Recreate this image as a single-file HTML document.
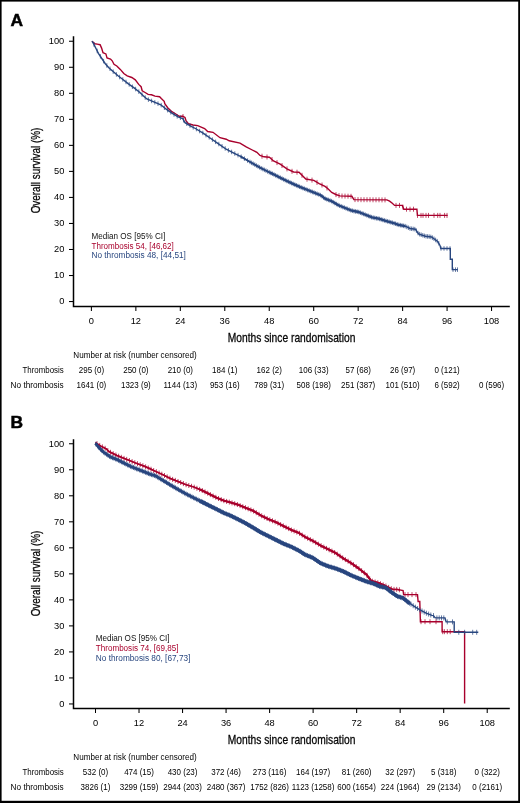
<!DOCTYPE html>
<html><head><meta charset="utf-8"><style>
html,body{margin:0;padding:0;background:#fff;}
svg{display:block;will-change:transform;}
</style></head><body>
<svg width="520" height="803" viewBox="0 0 520 803" font-family='"Liberation Sans", sans-serif' fill="#000">
<rect x="0" y="0" width="520" height="803" fill="#fff"/>
<path d="M73.5 36.2 V306.4 H509.8" fill="none" stroke="#000" stroke-width="1.5"/>
<path d="M69 301.55 H73.5" stroke="#000" stroke-width="1.05"/>
<text transform="translate(64.30 304.35) scale(0.9490 1)" font-size="9.8" text-anchor="end">0</text>
<path d="M69 275.52 H73.5" stroke="#000" stroke-width="1.05"/>
<text transform="translate(64.30 278.32) scale(0.9490 1)" font-size="9.8" text-anchor="end">10</text>
<path d="M69 249.49 H73.5" stroke="#000" stroke-width="1.05"/>
<text transform="translate(64.30 252.29) scale(0.9490 1)" font-size="9.8" text-anchor="end">20</text>
<path d="M69 223.46 H73.5" stroke="#000" stroke-width="1.05"/>
<text transform="translate(64.30 226.26) scale(0.9490 1)" font-size="9.8" text-anchor="end">30</text>
<path d="M69 197.43 H73.5" stroke="#000" stroke-width="1.05"/>
<text transform="translate(64.30 200.23) scale(0.9490 1)" font-size="9.8" text-anchor="end">40</text>
<path d="M69 171.40 H73.5" stroke="#000" stroke-width="1.05"/>
<text transform="translate(64.30 174.20) scale(0.9490 1)" font-size="9.8" text-anchor="end">50</text>
<path d="M69 145.37 H73.5" stroke="#000" stroke-width="1.05"/>
<text transform="translate(64.30 148.17) scale(0.9490 1)" font-size="9.8" text-anchor="end">60</text>
<path d="M69 119.34 H73.5" stroke="#000" stroke-width="1.05"/>
<text transform="translate(64.30 122.14) scale(0.9490 1)" font-size="9.8" text-anchor="end">70</text>
<path d="M69 93.31 H73.5" stroke="#000" stroke-width="1.05"/>
<text transform="translate(64.30 96.11) scale(0.9490 1)" font-size="9.8" text-anchor="end">80</text>
<path d="M69 67.28 H73.5" stroke="#000" stroke-width="1.05"/>
<text transform="translate(64.30 70.08) scale(0.9490 1)" font-size="9.8" text-anchor="end">90</text>
<path d="M69 41.25 H73.5" stroke="#000" stroke-width="1.05"/>
<text transform="translate(64.30 44.05) scale(0.9490 1)" font-size="9.8" text-anchor="end">100</text>
<path d="M91.40 306.4 V311.00" stroke="#000" stroke-width="1.05"/>
<text transform="translate(91.40 323.90) scale(0.9490 1)" font-size="9.8" text-anchor="middle">0</text>
<path d="M135.86 306.4 V311.00" stroke="#000" stroke-width="1.05"/>
<text transform="translate(135.86 323.90) scale(0.9490 1)" font-size="9.8" text-anchor="middle">12</text>
<path d="M180.32 306.4 V311.00" stroke="#000" stroke-width="1.05"/>
<text transform="translate(180.32 323.90) scale(0.9490 1)" font-size="9.8" text-anchor="middle">24</text>
<path d="M224.78 306.4 V311.00" stroke="#000" stroke-width="1.05"/>
<text transform="translate(224.78 323.90) scale(0.9490 1)" font-size="9.8" text-anchor="middle">36</text>
<path d="M269.24 306.4 V311.00" stroke="#000" stroke-width="1.05"/>
<text transform="translate(269.24 323.90) scale(0.9490 1)" font-size="9.8" text-anchor="middle">48</text>
<path d="M313.70 306.4 V311.00" stroke="#000" stroke-width="1.05"/>
<text transform="translate(313.70 323.90) scale(0.9490 1)" font-size="9.8" text-anchor="middle">60</text>
<path d="M358.16 306.4 V311.00" stroke="#000" stroke-width="1.05"/>
<text transform="translate(358.16 323.90) scale(0.9490 1)" font-size="9.8" text-anchor="middle">72</text>
<path d="M402.62 306.4 V311.00" stroke="#000" stroke-width="1.05"/>
<text transform="translate(402.62 323.90) scale(0.9490 1)" font-size="9.8" text-anchor="middle">84</text>
<path d="M447.08 306.4 V311.00" stroke="#000" stroke-width="1.05"/>
<text transform="translate(447.08 323.90) scale(0.9490 1)" font-size="9.8" text-anchor="middle">96</text>
<path d="M491.54 306.4 V311.00" stroke="#000" stroke-width="1.05"/>
<text transform="translate(491.54 323.90) scale(0.9490 1)" font-size="9.8" text-anchor="middle">108</text>
<text x="10.60" y="25.60" font-size="17.4" font-weight="bold" stroke="#000" stroke-width="0.5">A</text>
<text x="227.7" y="341.60" font-size="13.2" stroke="#0d0d0d" stroke-width="0.3" textLength="127.7" lengthAdjust="spacingAndGlyphs">Months since randomisation</text>
<text transform="translate(40.3 170.50) rotate(-90)" x="0" y="0" text-anchor="middle" font-size="13.2" stroke="#0d0d0d" stroke-width="0.3" textLength="85.7" lengthAdjust="spacingAndGlyphs">Overall survival (%)</text>
<text x="73.3" y="358.00" font-size="8.6" textLength="123.3" lengthAdjust="spacingAndGlyphs">Number at risk (number censored)</text>
<text x="22.5" y="373.00" font-size="8.6" textLength="41.2" lengthAdjust="spacingAndGlyphs">Thrombosis</text>
<text x="10.6" y="388.00" font-size="8.6" textLength="53.1" lengthAdjust="spacingAndGlyphs">No thrombosis</text>
<text transform="translate(91.40 373.00) scale(0.9302 1)" font-size="8.6" text-anchor="middle">295 (0)</text>
<text transform="translate(135.86 373.00) scale(0.9302 1)" font-size="8.6" text-anchor="middle">250 (0)</text>
<text transform="translate(180.32 373.00) scale(0.9302 1)" font-size="8.6" text-anchor="middle">210 (0)</text>
<text transform="translate(224.78 373.00) scale(0.9302 1)" font-size="8.6" text-anchor="middle">184 (1)</text>
<text transform="translate(269.24 373.00) scale(0.9302 1)" font-size="8.6" text-anchor="middle">162 (2)</text>
<text transform="translate(313.70 373.00) scale(0.9302 1)" font-size="8.6" text-anchor="middle">106 (33)</text>
<text transform="translate(358.16 373.00) scale(0.9302 1)" font-size="8.6" text-anchor="middle">57 (68)</text>
<text transform="translate(402.62 373.00) scale(0.9302 1)" font-size="8.6" text-anchor="middle">26 (97)</text>
<text transform="translate(447.08 373.00) scale(0.9302 1)" font-size="8.6" text-anchor="middle">0 (121)</text>
<text transform="translate(91.40 388.00) scale(0.9302 1)" font-size="8.6" text-anchor="middle">1641 (0)</text>
<text transform="translate(135.86 388.00) scale(0.9302 1)" font-size="8.6" text-anchor="middle">1323 (9)</text>
<text transform="translate(180.32 388.00) scale(0.9302 1)" font-size="8.6" text-anchor="middle">1144 (13)</text>
<text transform="translate(224.78 388.00) scale(0.9302 1)" font-size="8.6" text-anchor="middle">953 (16)</text>
<text transform="translate(269.24 388.00) scale(0.9302 1)" font-size="8.6" text-anchor="middle">789 (31)</text>
<text transform="translate(313.70 388.00) scale(0.9302 1)" font-size="8.6" text-anchor="middle">508 (198)</text>
<text transform="translate(358.16 388.00) scale(0.9302 1)" font-size="8.6" text-anchor="middle">251 (387)</text>
<text transform="translate(402.62 388.00) scale(0.9302 1)" font-size="8.6" text-anchor="middle">101 (510)</text>
<text transform="translate(447.08 388.00) scale(0.9302 1)" font-size="8.6" text-anchor="middle">6 (592)</text>
<text transform="translate(491.54 388.00) scale(0.9302 1)" font-size="8.6" text-anchor="middle">0 (596)</text>
<path d="M92.0 41.2 L94.9 43.8 L97.2 44.1 L100.1 44.7 L101.6 48.1 L103.0 52.7 L105.9 53.9 L107.0 57.9 L110.5 59.1 L112.2 60.8 L114.0 64.3 L116.8 66.0 L120.3 69.4 L123.8 73.5 L127.2 75.8 L131.8 77.5 L135.3 79.8 L138.7 84.4 L141.1 86.7 L142.2 90.8 L145.1 92.5 L148.1 94.4 L151.5 94.8 L155.0 96.1 L159.6 96.7 L161.3 98.5 L164.2 101.3 L164.8 103.6 L167.7 107.7 L171.1 111.1 L175.8 114.0 L179.2 116.3 L182.7 116.3 L185.0 117.5 L186.1 120.9 L188.4 123.8 L193.0 125.0 L197.7 125.6 L204.6 128.5 L207.7 131.5 L213.0 132.3 L220.0 137.7 L226.2 139.2 L229.2 140.8 L240.0 143.1 L246.2 146.9 L252.3 150.0 L256.9 152.3 L260.0 155.5 L264.0 156.8 L269.4 157.2 L273.5 160.9 L280.2 164.2 L286.9 168.9 L293.6 172.0 L299.0 172.3 L305.8 179.0 L313.8 180.4 L319.2 183.7 L325.0 186.4 L327.7 188.5 L331.7 192.5 L335.8 194.5 L339.8 195.9 L351.9 196.3 L353.9 199.6 L386.9 199.9 L389.6 201.2 L392.3 203.3 L394.6 205.4 L402.3 205.4 L403.8 209.2 L416.9 209.2 L417.4 215.4 L447.7 215.4" fill="none" stroke="#a8002c" stroke-width="1.4" stroke-linejoin="miter"/>
<path d="M183.0 114.0v5M262.0 153.7v5M267.0 154.5v5M272.0 157.0v5M277.0 160.1v5M282.0 163.0v5M287.0 166.4v5M292.0 168.8v5M297.0 169.7v5M302.0 172.8v5M307.0 176.7v5M312.0 177.6v5M317.0 179.9v5M322.0 182.5v5M327.0 185.5v5M336.0 192.1v5M339.0 193.1v5M342.0 193.5v5M345.0 193.6v5M348.0 193.7v5M351.0 193.8v5M355.0 197.1v5M358.0 197.1v5M361.0 197.2v5M364.0 197.2v5M367.0 197.2v5M370.0 197.2v5M373.0 197.3v5M376.0 197.3v5M379.0 197.3v5M382.0 197.4v5M385.0 197.4v5M396.0 202.9v5M399.5 202.9v5M403.0 204.7v5M406.5 206.7v5M410.0 206.7v5M413.5 206.7v5M417.5 212.9v5M421.0 212.9v5M423.0 212.9v5M426.0 212.9v5M428.5 212.9v5M434.0 212.9v5M437.7 212.9v5M440.0 212.9v5M444.6 212.9v5M447.0 212.9v5" stroke="#a8002c" stroke-width="0.9" opacity="0.8"/>
<path d="M240.0 156.2 L241.5 156.9 L249.2 161.5 L260.0 167.6 L266.7 171.0 L272.0 173.6" fill="none" stroke="#28467f" stroke-width="1.8" stroke-linejoin="round"/>
<path d="M270.0 172.6 L273.5 174.3 L280.2 177.7 L286.9 181.0 L293.6 184.1 L300.4 187.1 L307.1 189.8 L313.8 192.5 L320.6 195.2 L325.0 198.6 L331.7 201.2 L338.5 205.3 L345.2 208.0 L351.9 210.7 L358.6 212.0 L365.4 214.7 L372.1 217.4 L378.8 218.7 L385.6 220.8 L395.0 223.5 L397.7 224.6 L405.0 226.1" fill="none" stroke="#28467f" stroke-width="2.3" stroke-linejoin="round"/>
<path d="M92.0 41.2 L93.8 44.1 L96.1 48.7 L98.4 53.3 L101.8 58.5 L105.3 63.7 L108.8 67.7 L113.4 71.8 L118.0 75.8 L122.6 79.3 L128.4 83.9 L134.1 87.9 L139.9 92.5 L143.5 96.1 L146.9 99.0 L153.8 101.9 L160.8 104.8 L166.5 109.4 L172.3 113.4 L178.1 116.9 L182.7 118.6 L185.0 122.7 L190.7 126.1 L195.4 128.5 L203.1 133.1 L210.8 138.5 L218.5 143.8 L226.2 149.2 L233.8 153.1 L241.5 156.9 L249.2 161.5 L260.0 167.6 L266.7 171.0 L273.5 174.3 L280.2 177.7 L286.9 181.0 L293.6 184.1 L300.4 187.1 L307.1 189.8 L313.8 192.5 L320.6 195.2 L325.0 198.6 L331.7 201.2 L338.5 205.3 L345.2 208.0 L351.9 210.7 L358.6 212.0 L365.4 214.7 L372.1 217.4 L378.8 218.7 L385.6 220.8 L395.0 223.5 L397.7 224.6 L405.4 226.2 L410.0 228.5 L415.4 229.2 L418.5 233.8 L425.4 236.2 L431.5 237.0 L434.6 239.2 L437.7 241.5 L440.0 245.4 L440.8 248.5 L450.3 248.5 L450.3 259.2 L452.3 259.2 L452.3 269.6 L457.8 269.6" fill="none" stroke="#28467f" stroke-width="1.4"/>
<path d="M94.0 42.3v4.5M97.2 48.7v4.5M100.4 54.1v4.5M103.6 58.9v4.5M106.8 63.2v4.5M110.0 66.5v4.5M113.2 69.4v4.5M116.4 72.2v4.5M119.6 74.8v4.5M122.8 77.2v4.5M126.0 79.7v4.5M129.2 82.2v4.5M132.4 84.5v4.5M135.6 86.8v4.5M138.8 89.4v4.5M142.0 92.3v4.5M145.2 95.3v4.5M148.4 97.4v4.5M151.6 98.7v4.5M154.8 100.1v4.5M158.0 101.4v4.5M161.2 102.9v4.5M164.4 105.5v4.5M167.6 107.9v4.5M170.8 110.1v4.5M174.0 112.2v4.5M177.2 114.1v4.5M180.4 115.5v4.5M183.6 118.0v4.5M186.8 121.5v4.5M190.0 123.4v4.5M193.2 125.1v4.5M196.4 126.8v4.5M199.6 128.8v4.5M202.8 130.7v4.5M206.0 132.9v4.5M209.2 135.1v4.5M212.4 137.4v4.5M215.6 139.6v4.5M218.8 141.8v4.5M222.0 144.0v4.5M225.2 146.2v4.5M228.4 148.1v4.5M231.6 149.7v4.5M234.8 151.3v4.5M238.0 152.9v4.5M241.2 154.5v4.5M244.4 156.4v4.5M247.6 158.3v4.5M250.0 159.7v4.5M251.6 160.6v4.5M253.2 161.5v4.5M254.8 162.4v4.5M256.4 163.3v4.5M258.0 164.2v4.5M259.6 165.1v4.5M261.2 166.0v4.5M262.8 166.8v4.5M264.4 167.6v4.5M266.0 168.4v4.5M267.6 169.2v4.5M269.2 170.0v4.5M270.8 170.7v4.5M272.4 171.5v4.5M274.0 172.3v4.5M275.6 173.1v4.5M277.2 173.9v4.5M278.8 174.7v4.5M280.4 175.5v4.5M282.0 176.3v4.5M283.6 177.1v4.5M285.2 177.9v4.5M286.8 178.7v4.5M288.4 179.4v4.5M290.0 180.2v4.5M291.6 180.9v4.5M293.2 181.7v4.5M294.8 182.4v4.5M296.4 183.1v4.5M298.0 183.8v4.5M299.6 184.5v4.5M301.2 185.2v4.5M302.8 185.8v4.5M304.4 186.5v4.5M306.0 187.1v4.5M307.6 187.8v4.5M309.2 188.4v4.5M310.8 189.0v4.5M312.4 189.7v4.5M314.0 190.3v4.5M315.6 191.0v4.5M317.2 191.6v4.5M318.8 192.2v4.5M320.4 192.9v4.5M322.0 194.0v4.5M323.6 195.3v4.5M325.2 196.4v4.5M326.8 197.0v4.5M328.4 197.7v4.5M330.0 198.3v4.5M331.6 198.9v4.5M333.2 199.9v4.5M334.8 200.8v4.5M336.4 201.8v4.5M338.0 202.7v4.5M339.6 203.5v4.5M341.2 204.1v4.5M342.8 204.8v4.5M344.4 205.4v4.5M346.0 206.1v4.5M347.6 206.7v4.5M349.2 207.4v4.5M350.8 208.0v4.5M352.4 208.5v4.5M354.0 208.9v4.5M355.6 209.2v4.5M357.2 209.5v4.5M358.8 209.8v4.5M360.4 210.5v4.5M362.0 211.1v4.5M363.6 211.7v4.5M365.2 212.4v4.5M366.8 213.0v4.5M368.4 213.7v4.5M370.0 214.3v4.5M371.6 214.9v4.5M373.2 215.4v4.5M374.8 215.7v4.5M376.4 216.0v4.5M378.0 216.3v4.5M379.6 216.7v4.5M381.2 217.2v4.5M382.8 217.7v4.5M384.4 218.2v4.5M386.0 218.7v4.5M387.6 219.1v4.5M389.2 219.6v4.5M390.8 220.0v4.5M392.4 220.5v4.5M394.0 221.0v4.5M395.6 221.5v4.5M397.2 222.1v4.5M398.8 222.6v4.5M400.4 222.9v4.5M402.0 223.2v4.5M403.6 223.6v4.5M405.2 223.9v4.5M406.8 224.7v4.5M408.4 225.5v4.5M410.0 226.3v4.5M411.6 226.5v4.5M413.2 226.7v4.5M414.8 226.9v4.5M416.4 228.4v4.5M418.0 230.8v4.5M419.6 231.9v4.5M421.2 232.5v4.5M422.8 233.0v4.5M424.4 233.6v4.5M426.0 234.0v4.5M427.6 234.2v4.5M429.2 234.4v4.5M430.8 234.7v4.5M432.4 235.4v4.5M434.0 236.5v4.5M435.6 237.7v4.5M437.2 238.9v4.5M438.8 241.1v4.5M441.0 246.2v4.5M444.0 246.2v4.5M447.0 246.2v4.5M450.0 246.2v4.5M453.0 267.4v4.5M455.5 267.4v4.5M457.5 267.4v4.5" stroke="#28467f" stroke-width="0.9" opacity="0.8"/>
<text x="91.5" y="238.80" font-size="8.3" fill="#111" textLength="73.8" lengthAdjust="spacingAndGlyphs">Median OS [95% CI]</text>
<text x="91.5" y="248.70" font-size="8.3" fill="#a8002c" textLength="82.3" lengthAdjust="spacingAndGlyphs">Thrombosis 54, [46,62]</text>
<text x="91.5" y="258.40" font-size="8.3" fill="#28467f" textLength="94.4" lengthAdjust="spacingAndGlyphs">No thrombosis 48, [44,51]</text>
<path d="M73.5 439.2 V708.4 H509.8" fill="none" stroke="#000" stroke-width="1.5"/>
<path d="M69 703.95 H73.5" stroke="#000" stroke-width="1.05"/>
<text transform="translate(64.30 706.75) scale(0.9490 1)" font-size="9.8" text-anchor="end">0</text>
<path d="M69 677.93 H73.5" stroke="#000" stroke-width="1.05"/>
<text transform="translate(64.30 680.73) scale(0.9490 1)" font-size="9.8" text-anchor="end">10</text>
<path d="M69 651.91 H73.5" stroke="#000" stroke-width="1.05"/>
<text transform="translate(64.30 654.71) scale(0.9490 1)" font-size="9.8" text-anchor="end">20</text>
<path d="M69 625.89 H73.5" stroke="#000" stroke-width="1.05"/>
<text transform="translate(64.30 628.69) scale(0.9490 1)" font-size="9.8" text-anchor="end">30</text>
<path d="M69 599.87 H73.5" stroke="#000" stroke-width="1.05"/>
<text transform="translate(64.30 602.67) scale(0.9490 1)" font-size="9.8" text-anchor="end">40</text>
<path d="M69 573.85 H73.5" stroke="#000" stroke-width="1.05"/>
<text transform="translate(64.30 576.65) scale(0.9490 1)" font-size="9.8" text-anchor="end">50</text>
<path d="M69 547.83 H73.5" stroke="#000" stroke-width="1.05"/>
<text transform="translate(64.30 550.63) scale(0.9490 1)" font-size="9.8" text-anchor="end">60</text>
<path d="M69 521.81 H73.5" stroke="#000" stroke-width="1.05"/>
<text transform="translate(64.30 524.61) scale(0.9490 1)" font-size="9.8" text-anchor="end">70</text>
<path d="M69 495.79 H73.5" stroke="#000" stroke-width="1.05"/>
<text transform="translate(64.30 498.59) scale(0.9490 1)" font-size="9.8" text-anchor="end">80</text>
<path d="M69 469.77 H73.5" stroke="#000" stroke-width="1.05"/>
<text transform="translate(64.30 472.57) scale(0.9490 1)" font-size="9.8" text-anchor="end">90</text>
<path d="M69 443.75 H73.5" stroke="#000" stroke-width="1.05"/>
<text transform="translate(64.30 446.55) scale(0.9490 1)" font-size="9.8" text-anchor="end">100</text>
<path d="M95.50 708.4 V713.00" stroke="#000" stroke-width="1.05"/>
<text transform="translate(95.50 725.90) scale(0.9490 1)" font-size="9.8" text-anchor="middle">0</text>
<path d="M139.02 708.4 V713.00" stroke="#000" stroke-width="1.05"/>
<text transform="translate(139.02 725.90) scale(0.9490 1)" font-size="9.8" text-anchor="middle">12</text>
<path d="M182.55 708.4 V713.00" stroke="#000" stroke-width="1.05"/>
<text transform="translate(182.55 725.90) scale(0.9490 1)" font-size="9.8" text-anchor="middle">24</text>
<path d="M226.07 708.4 V713.00" stroke="#000" stroke-width="1.05"/>
<text transform="translate(226.07 725.90) scale(0.9490 1)" font-size="9.8" text-anchor="middle">36</text>
<path d="M269.60 708.4 V713.00" stroke="#000" stroke-width="1.05"/>
<text transform="translate(269.60 725.90) scale(0.9490 1)" font-size="9.8" text-anchor="middle">48</text>
<path d="M313.12 708.4 V713.00" stroke="#000" stroke-width="1.05"/>
<text transform="translate(313.12 725.90) scale(0.9490 1)" font-size="9.8" text-anchor="middle">60</text>
<path d="M356.64 708.4 V713.00" stroke="#000" stroke-width="1.05"/>
<text transform="translate(356.64 725.90) scale(0.9490 1)" font-size="9.8" text-anchor="middle">72</text>
<path d="M400.17 708.4 V713.00" stroke="#000" stroke-width="1.05"/>
<text transform="translate(400.17 725.90) scale(0.9490 1)" font-size="9.8" text-anchor="middle">84</text>
<path d="M443.69 708.4 V713.00" stroke="#000" stroke-width="1.05"/>
<text transform="translate(443.69 725.90) scale(0.9490 1)" font-size="9.8" text-anchor="middle">96</text>
<path d="M487.22 708.4 V713.00" stroke="#000" stroke-width="1.05"/>
<text transform="translate(487.22 725.90) scale(0.9490 1)" font-size="9.8" text-anchor="middle">108</text>
<text x="10.60" y="428.20" font-size="17.4" font-weight="bold" stroke="#000" stroke-width="0.5">B</text>
<text x="227.7" y="743.80" font-size="13.2" stroke="#0d0d0d" stroke-width="0.3" textLength="127.7" lengthAdjust="spacingAndGlyphs">Months since randomisation</text>
<text transform="translate(40.3 573.50) rotate(-90)" x="0" y="0" text-anchor="middle" font-size="13.2" stroke="#0d0d0d" stroke-width="0.3" textLength="85.7" lengthAdjust="spacingAndGlyphs">Overall survival (%)</text>
<text x="73.3" y="760.00" font-size="8.6" textLength="123.3" lengthAdjust="spacingAndGlyphs">Number at risk (number censored)</text>
<text x="22.5" y="775.00" font-size="8.6" textLength="41.2" lengthAdjust="spacingAndGlyphs">Thrombosis</text>
<text x="10.6" y="790.00" font-size="8.6" textLength="53.1" lengthAdjust="spacingAndGlyphs">No thrombosis</text>
<text transform="translate(95.50 775.00) scale(0.9302 1)" font-size="8.6" text-anchor="middle">532 (0)</text>
<text transform="translate(139.02 775.00) scale(0.9302 1)" font-size="8.6" text-anchor="middle">474 (15)</text>
<text transform="translate(182.55 775.00) scale(0.9302 1)" font-size="8.6" text-anchor="middle">430 (23)</text>
<text transform="translate(226.07 775.00) scale(0.9302 1)" font-size="8.6" text-anchor="middle">372 (46)</text>
<text transform="translate(269.60 775.00) scale(0.9302 1)" font-size="8.6" text-anchor="middle">273 (116)</text>
<text transform="translate(313.12 775.00) scale(0.9302 1)" font-size="8.6" text-anchor="middle">164 (197)</text>
<text transform="translate(356.64 775.00) scale(0.9302 1)" font-size="8.6" text-anchor="middle">81 (260)</text>
<text transform="translate(400.17 775.00) scale(0.9302 1)" font-size="8.6" text-anchor="middle">32 (297)</text>
<text transform="translate(443.69 775.00) scale(0.9302 1)" font-size="8.6" text-anchor="middle">5 (318)</text>
<text transform="translate(487.22 775.00) scale(0.9302 1)" font-size="8.6" text-anchor="middle">0 (322)</text>
<text transform="translate(95.50 790.00) scale(0.9302 1)" font-size="8.6" text-anchor="middle">3826 (1)</text>
<text transform="translate(139.02 790.00) scale(0.9302 1)" font-size="8.6" text-anchor="middle">3299 (159)</text>
<text transform="translate(182.55 790.00) scale(0.9302 1)" font-size="8.6" text-anchor="middle">2944 (203)</text>
<text transform="translate(226.07 790.00) scale(0.9302 1)" font-size="8.6" text-anchor="middle">2480 (367)</text>
<text transform="translate(269.60 790.00) scale(0.9302 1)" font-size="8.6" text-anchor="middle">1752 (826)</text>
<text transform="translate(313.12 790.00) scale(0.9302 1)" font-size="8.6" text-anchor="middle">1123 (1258)</text>
<text transform="translate(356.64 790.00) scale(0.9302 1)" font-size="8.6" text-anchor="middle">600 (1654)</text>
<text transform="translate(400.17 790.00) scale(0.9302 1)" font-size="8.6" text-anchor="middle">224 (1964)</text>
<text transform="translate(443.69 790.00) scale(0.9302 1)" font-size="8.6" text-anchor="middle">29 (2134)</text>
<text transform="translate(487.22 790.00) scale(0.9302 1)" font-size="8.6" text-anchor="middle">0 (2161)</text>
<path d="M95.4 442.7 L100.8 446.1 L106.2 448.8 L108.8 451.5 L116.9 455.5 L123.6 458.2 L130.4 460.9 L137.1 463.6 L143.8 466.0 L150.6 469.0 L155.0 471.1 L162.7 474.6 L170.4 478.5 L178.1 481.5 L185.8 484.6 L193.5 486.9 L201.2 490.0 L208.8 493.8 L216.5 497.7 L224.2 500.8 L230.0 502.3 L237.7 504.6 L245.4 507.7 L253.1 510.8 L260.8 515.4 L268.5 519.2 L276.2 522.3 L283.8 526.2 L291.5 530.0 L299.2 533.1 L305.0 536.9 L312.7 540.8 L320.4 545.4 L328.1 549.2 L335.8 553.1 L343.5 558.5 L351.2 563.1 L358.8 568.5 L366.5 574.6 L371.2 580.8 L378.8 583.1 L385.8 586.0 L392.7 589.4 L397.3 589.4 L400.0 590.0" fill="none" stroke="#a8002c" stroke-width="1.5" stroke-linejoin="round"/>
<path d="M95.4 442.7 L100.8 446.1 L106.2 448.8 L108.8 451.5 L116.9 455.5 L123.6 458.2 L130.4 460.9 L137.1 463.6 L143.8 466.0 L150.6 469.0 L155.0 471.1 L162.7 474.6 L170.4 478.5 L178.1 481.5 L185.8 484.6 L193.5 486.9 L201.2 490.0 L208.8 493.8 L216.5 497.7 L224.2 500.8 L230.0 502.3 L237.7 504.6 L245.4 507.7 L253.1 510.8 L260.8 515.4 L268.5 519.2 L276.2 522.3 L283.8 526.2 L291.5 530.0 L299.2 533.1 L305.0 536.9 L312.7 540.8 L320.4 545.4 L328.1 549.2 L335.8 553.1 L343.5 558.5 L351.2 563.1 L358.8 568.5 L366.5 574.6 L371.2 580.8 L378.8 583.1 L385.8 586.0 L392.7 589.4 L397.3 589.4 L403.1 590.6 L403.6 594.6 L417.5 594.6 L418.1 601.5 L419.8 601.5 L420.4 621.7 L442.1 621.7 L442.1 631.7 L464.6 631.7 L464.6 703.5" fill="none" stroke="#a8002c" stroke-width="1.4"/>
<path d="M200.0 489.5 L201.2 490.0 L208.8 493.8 L216.5 497.7 L224.2 500.8 L230.0 502.3 L237.7 504.6 L245.4 507.7 L253.1 510.8 L260.8 515.4 L268.5 519.2 L276.2 522.3 L283.8 526.2 L291.5 530.0 L299.2 533.1 L305.0 536.9 L312.7 540.8 L320.4 545.4 L328.1 549.2 L335.8 553.1 L343.5 558.5 L351.2 563.1 L358.8 568.5 L366.5 574.6 L371.2 580.8 L378.8 583.1 L385.0 585.7" fill="none" stroke="#a8002c" stroke-width="2.2" stroke-linejoin="round"/>
<path d="M97.0 441.2v5M99.7 442.9v5M102.4 444.4v5M105.1 445.8v5M107.8 448.0v5M110.5 449.8v5M113.2 451.2v5M115.9 452.5v5M118.6 453.7v5M121.3 454.8v5M124.0 455.9v5M126.7 456.9v5M129.4 458.0v5M132.1 459.1v5M134.8 460.2v5M137.5 461.2v5M140.2 462.2v5M142.9 463.2v5M145.6 464.3v5M148.3 465.5v5M151.0 466.7v5M153.7 468.0v5M156.4 469.2v5M159.1 470.5v5M161.8 471.7v5M164.5 473.0v5M167.2 474.4v5M169.9 475.7v5M172.6 476.9v5M175.3 477.9v5M178.0 479.0v5M180.7 480.0v5M183.4 481.1v5M186.1 482.2v5M188.8 483.0v5M191.5 483.8v5M194.2 484.7v5M196.9 485.8v5M199.6 486.9v5M202.3 488.0v5M205.0 489.4v5M207.7 490.7v5M210.4 492.1v5M213.1 493.5v5M215.8 494.8v5M218.5 496.0v5M221.2 497.1v5M223.9 498.2v5M226.6 498.9v5M229.3 499.6v5M232.0 500.4v5M234.7 501.2v5M237.4 502.0v5M240.1 503.1v5M242.8 504.2v5M245.5 505.2v5M248.2 506.3v5M250.9 507.4v5M253.6 508.6v5M256.3 510.2v5M259.0 511.8v5M261.7 513.3v5M264.4 514.7v5M267.1 516.0v5M269.8 517.2v5M272.5 518.3v5M275.2 519.4v5M277.9 520.7v5M280.6 522.1v5M283.3 523.4v5M286.0 524.8v5M288.7 526.1v5M291.4 527.5v5M294.1 528.5v5M296.8 529.6v5M299.5 530.8v5M302.2 532.6v5M304.9 534.3v5M307.6 535.7v5M310.3 537.1v5M313.0 538.5v5M315.7 540.1v5M318.4 541.7v5M321.1 543.2v5M323.8 544.6v5M326.5 545.9v5M329.2 547.3v5M331.9 548.6v5M334.6 550.0v5M337.3 551.7v5M340.0 553.5v5M342.7 555.4v5M345.4 557.1v5M348.1 558.7v5M350.8 560.4v5M353.5 562.2v5M356.2 564.2v5M358.9 566.1v5M361.6 568.2v5M364.3 570.4v5M367.0 572.8v5M369.7 576.3v5M372.4 578.7v5M375.1 579.5v5M377.8 580.3v5M380.5 581.3v5M383.2 582.4v5M385.9 583.5v5M388.6 584.9v5M391.3 586.2v5M394.0 586.9v5M396.7 586.9v5M399.4 587.3v5M405.0 592.1v5M408.0 592.1v5M412.0 592.1v5M416.0 592.1v5M421.0 619.2v5M425.0 619.2v5M430.0 619.2v5M436.0 619.2v5M442.7 629.2v5M444.4 629.2v5M447.3 629.2v5M450.2 629.2v5" stroke="#a8002c" stroke-width="0.9" opacity="0.8"/>
<path d="M95.4 443.4 L99.4 448.1 L103.5 452.1 L110.2 456.8 L116.9 459.5 L123.6 462.9 L130.4 466.3 L137.1 469.0 L143.8 471.6 L150.6 474.3 L155.0 475.6 L162.7 480.2 L170.4 484.9 L178.1 489.4 L185.8 493.8 L193.5 497.7 L201.2 501.5 L205.0 503.4" fill="none" stroke="#28467f" stroke-width="2.9" stroke-linejoin="round"/>
<path d="M200.0 500.9 L201.2 501.5 L208.8 505.4 L216.5 509.2 L224.2 513.1 L230.0 515.4 L237.7 519.2 L245.4 523.1 L253.1 527.7 L260.8 532.3 L268.5 536.2 L276.2 540.0 L283.8 543.8 L291.5 546.9 L299.2 550.8 L305.0 554.6 L312.7 557.7 L320.4 563.1 L328.1 566.2 L335.8 568.5 L343.5 571.5 L351.2 575.4 L358.8 578.5 L366.5 581.5 L374.2 583.8 L380.0 586.5 L385.8 587.7 L391.5 592.3 L397.3 596.3 L403.1 598.1 L408.8 602.7 L410.0 603.5" fill="none" stroke="#28467f" stroke-width="3.7" stroke-linejoin="round"/>
<path d="M95.4 443.4 L99.4 448.1 L103.5 452.1 L110.2 456.8 L116.9 459.5 L123.6 462.9 L130.4 466.3 L137.1 469.0 L143.8 471.6 L150.6 474.3 L155.0 475.6 L162.7 480.2 L170.4 484.9 L178.1 489.4 L185.8 493.8 L193.5 497.7 L201.2 501.5 L208.8 505.4 L216.5 509.2 L224.2 513.1 L230.0 515.4 L237.7 519.2 L245.4 523.1 L253.1 527.7 L260.8 532.3 L268.5 536.2 L276.2 540.0 L283.8 543.8 L291.5 546.9 L299.2 550.8 L305.0 554.6 L312.7 557.7 L320.4 563.1 L328.1 566.2 L335.8 568.5 L343.5 571.5 L351.2 575.4 L358.8 578.5 L366.5 581.5 L374.2 583.8 L380.0 586.5 L385.8 587.7 L391.5 592.3 L397.3 596.3 L403.1 598.1 L408.8 602.7 L414.6 606.7 L420.4 610.2 L426.1 613.1 L431.9 615.4 L433.5 615.6 L435.2 617.9 L445.0 617.9 L446.1 621.9 L454.2 621.9 L454.2 632.3 L478.3 632.3" fill="none" stroke="#28467f" stroke-width="1.4"/>
<path d="M96.0 441.6v5M97.5 443.4v5M99.0 445.1v5M100.5 446.7v5M102.0 448.1v5M103.5 449.6v5M105.0 450.7v5M106.5 451.7v5M108.0 452.8v5M109.5 453.8v5M111.0 454.6v5M112.5 455.2v5M114.0 455.8v5M115.5 456.4v5M117.0 457.1v5M118.5 457.8v5M120.0 458.6v5M121.5 459.3v5M123.0 460.1v5M124.5 460.8v5M126.0 461.6v5M127.5 462.4v5M129.0 463.1v5M130.5 463.8v5M132.0 464.4v5M133.5 465.0v5M135.0 465.7v5M136.5 466.3v5M138.0 466.8v5M139.5 467.4v5M141.0 468.0v5M142.5 468.6v5M144.0 469.2v5M145.5 469.8v5M147.0 470.4v5M148.5 471.0v5M150.0 471.6v5M151.5 472.1v5M153.0 472.5v5M154.5 473.0v5M156.0 473.7v5M157.5 474.6v5M159.0 475.5v5M160.5 476.4v5M162.0 477.3v5M163.5 478.2v5M165.0 479.1v5M166.5 480.0v5M168.0 480.9v5M169.5 481.9v5M171.0 482.8v5M172.5 483.6v5M174.0 484.5v5M175.5 485.4v5M177.0 486.3v5M178.5 487.1v5M180.0 488.0v5M181.5 488.8v5M183.0 489.7v5M184.5 490.6v5M186.0 491.4v5M187.5 492.2v5M189.0 492.9v5M190.5 493.7v5M192.0 494.4v5M193.5 495.2v5M195.0 495.9v5M196.5 496.7v5M198.0 497.4v5M199.5 498.2v5M201.0 498.9v5M202.5 499.7v5M204.0 500.4v5M205.5 501.2v5M207.0 502.0v5M208.5 502.7v5M210.0 503.5v5M211.5 504.2v5M213.0 505.0v5M214.5 505.7v5M216.0 506.5v5M217.5 507.2v5M219.0 508.0v5M220.5 508.7v5M222.0 509.5v5M223.5 510.2v5M225.0 510.9v5M226.5 511.5v5M228.0 512.1v5M229.5 512.7v5M231.0 513.4v5M232.5 514.1v5M234.0 514.9v5M235.5 515.6v5M237.0 516.4v5M238.5 517.1v5M240.0 517.9v5M241.5 518.6v5M243.0 519.4v5M244.5 520.1v5M246.0 521.0v5M247.5 521.9v5M249.0 522.8v5M250.5 523.6v5M252.0 524.5v5M253.5 525.4v5M255.0 526.3v5M256.5 527.2v5M258.0 528.1v5M259.5 529.0v5M261.0 529.9v5M262.5 530.7v5M264.0 531.4v5M265.5 532.2v5M267.0 532.9v5M268.5 533.7v5M270.0 534.4v5M271.5 535.2v5M273.0 535.9v5M274.5 536.7v5M276.0 537.4v5M277.5 538.1v5M279.0 538.9v5M280.5 539.6v5M282.0 540.4v5M283.5 541.1v5M285.0 541.8v5M286.5 542.4v5M288.0 543.0v5M289.5 543.6v5M291.0 544.2v5M292.5 544.9v5M294.0 545.7v5M295.5 546.4v5M297.0 547.2v5M298.5 547.9v5M300.0 548.8v5M301.5 549.8v5M303.0 550.8v5M304.5 551.8v5M306.0 552.5v5M307.5 553.1v5M309.0 553.7v5M310.5 554.3v5M312.0 554.9v5M313.5 555.8v5M315.0 556.8v5M316.5 557.9v5M318.0 558.9v5M319.5 560.0v5M321.0 560.8v5M322.5 561.4v5M324.0 562.0v5M325.5 562.7v5M327.0 563.3v5M328.5 563.8v5M330.0 564.3v5M331.5 564.7v5M333.0 565.2v5M334.5 565.6v5M336.0 566.1v5M337.5 566.7v5M339.0 567.2v5M340.5 567.8v5M342.0 568.4v5M343.5 569.0v5M345.0 569.8v5M346.5 570.5v5M348.0 571.3v5M349.5 572.0v5M351.0 572.8v5M352.5 573.4v5M354.0 574.0v5M355.5 574.7v5M357.0 575.3v5M358.5 575.9v5M360.0 576.5v5M361.5 577.1v5M363.0 577.6v5M364.5 578.2v5M366.0 578.8v5M367.5 579.3v5M369.0 579.7v5M370.5 580.2v5M372.0 580.6v5M373.5 581.1v5M375.0 581.7v5M376.5 582.4v5M378.0 583.1v5M379.5 583.8v5M381.0 584.2v5M382.5 584.5v5M384.0 584.8v5M385.5 585.1v5M387.0 586.2v5M388.5 587.4v5M390.0 588.6v5M391.5 589.8v5M393.0 590.8v5M394.5 591.9v5M396.0 592.9v5M397.5 593.9v5M399.0 594.3v5M400.5 594.8v5M402.0 595.3v5M403.5 595.9v5M405.0 597.1v5M406.5 598.3v5M408.0 599.6v5M409.5 600.7v5M411.0 601.7v5M413.2 603.2v5M415.4 604.7v5M417.6 606.0v5M419.8 607.3v5M422.0 608.5v5M424.2 609.6v5M426.4 610.7v5M428.6 611.6v5M430.8 612.5v5M433.5 613.1v5M436.9 615.4v5M439.2 615.4v5M441.5 615.4v5M443.8 615.4v5M447.3 619.4v5M452.5 619.4v5M458.8 629.8v5M464.6 629.8v5M472.7 629.8v5M476.7 629.8v5" stroke="#28467f" stroke-width="0.9" opacity="0.8"/>
<text x="95.8" y="641.30" font-size="8.3" fill="#111" textLength="73.8" lengthAdjust="spacingAndGlyphs">Median OS [95% CI]</text>
<text x="95.8" y="651.20" font-size="8.3" fill="#a8002c" textLength="82.6" lengthAdjust="spacingAndGlyphs">Thrombosis 74, [69,85]</text>
<text x="95.8" y="660.90" font-size="8.3" fill="#28467f" textLength="94.6" lengthAdjust="spacingAndGlyphs">No thrombosis 80, [67,73]</text>
<g fill="#000"><rect x="0" y="0" width="520" height="1.6"/><rect x="0" y="0" width="1.6" height="803"/><rect x="518.2" y="0" width="1.8" height="803"/><rect x="0" y="800.8" width="520" height="2.2"/></g>
</svg></body></html>
